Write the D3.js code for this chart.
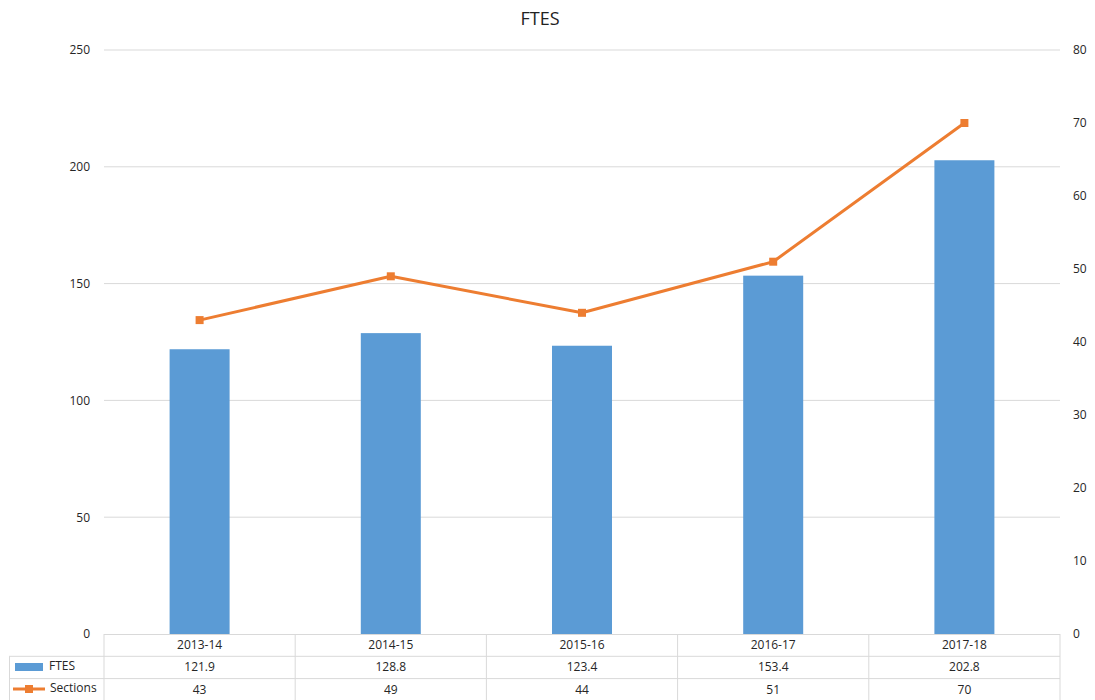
<!DOCTYPE html>
<html><head><meta charset="utf-8">
<script src="https://cdn.jsdelivr.net/npm/d3@7"></script>
<style>body{margin:0;background:#fff;} text{font-family:"Open Sans","Noto Sans",sans-serif;}</style>
</head><body>
<svg id="c" width="1095" height="700"></svg>
<script>
const categories = ["2013-14","2014-15","2015-16","2016-17","2017-18"];
const ftes = [121.9,128.8,123.4,153.4,202.8];
const sections = [43,49,44,51,70];
const leftTicks = [0,50,100,150,200,250];
const rightTicks = [0,10,20,30,40,50,60,70,80];

const svg = d3.select("#c");
const L=104, R=1060, T=50, B=634;
const x = d3.scaleBand().domain(categories).range([L,R]).paddingInner(0).paddingOuter(0);
const yL = d3.scaleLinear().domain([0,250]).range([B,T]);
const yR = d3.scaleLinear().domain([0,80]).range([B,T]);
const grid="#d9d9d9", txt="#262626";

svg.append("text").attr("x",540).attr("y",25).attr("text-anchor","middle")
  .attr("font-size",18).attr("fill","#222").text("FTES");

// gridlines
svg.append("g").selectAll("line").data(leftTicks.filter(d=>d>0)).join("line")
  .attr("x1",L).attr("x2",R).attr("y1",d=>yL(d)).attr("y2",d=>yL(d))
  .attr("stroke",grid).attr("stroke-width",1);

// axis labels
const axL = svg.append("g").attr("transform",`translate(${L},0)`)
  .call(d3.axisLeft(yL).tickValues(leftTicks).tickSize(0).tickPadding(14));
axL.select(".domain").remove();
axL.selectAll("text").attr("font-size",12).attr("fill",txt).style("font-family","'Open Sans',sans-serif");

const axR = svg.append("g").attr("transform",`translate(${R},0)`)
  .call(d3.axisRight(yR).tickValues(rightTicks).tickSize(0).tickPadding(13));
axR.select(".domain").remove();
axR.selectAll("text").attr("font-size",12).attr("fill",txt).style("font-family","'Open Sans',sans-serif");

// bars
const bw = 60;
svg.append("g").selectAll("rect").data(ftes).join("rect")
  .attr("x",(d,i)=>x(categories[i])+x.bandwidth()/2-bw/2)
  .attr("width",bw)
  .attr("y",d=>yL(d)).attr("height",d=>B-yL(d))
  .attr("fill","#5B9BD5");

// line
const line = d3.line().x((d,i)=>x(categories[i])+x.bandwidth()/2).y(d=>yR(d));
svg.append("path").datum(sections).attr("d",line).attr("fill","none")
  .attr("stroke","#ED7D31").attr("stroke-width",3).attr("stroke-linejoin","round");
svg.append("g").selectAll("rect").data(sections).join("rect")
  .attr("x",(d,i)=>x(categories[i])+x.bandwidth()/2-4)
  .attr("y",d=>yR(d)-4).attr("width",8).attr("height",8).attr("fill","#ED7D31");

// data table
const rowH = 22.3;
const tg = svg.append("g");
const rows = [B, B+rowH, B+2*rowH, B+3*rowH];
tg.append("line").attr("x1",L).attr("x2",R).attr("y1",B+0.5).attr("y2",B+0.5).attr("stroke",grid);
[rows[1],rows[2],rows[3]].forEach(yv=>{
  tg.append("line").attr("x1",9).attr("x2",R).attr("y1",yv).attr("y2",yv).attr("stroke",grid);
});
const vx = categories.map(c=>x(c)).concat([R]);
vx.forEach(xv=>{
  tg.append("line").attr("x1",xv).attr("x2",xv).attr("y1",B).attr("y2",700).attr("stroke",grid);
});
tg.append("line").attr("x1",9.5).attr("x2",9.5).attr("y1",rows[1]).attr("y2",700).attr("stroke",grid);

const cx = c=>x(c)+x.bandwidth()/2;
tg.selectAll("text.cat").data(categories).join("text").attr("class","cat")
  .attr("x",d=>cx(d)).attr("y",B+rowH/2+4).attr("text-anchor","middle")
  .attr("font-size",12).attr("fill",txt).text(d=>d);
tg.selectAll("text.f").data(ftes).join("text").attr("class","f")
  .attr("x",(d,i)=>cx(categories[i])).attr("y",B+rowH*1.5+4).attr("text-anchor","middle")
  .attr("font-size",12).attr("fill",txt).text(d=>d.toFixed(1));
tg.selectAll("text.s").data(sections).join("text").attr("class","s")
  .attr("x",(d,i)=>cx(categories[i])).attr("y",B+rowH*2.5+4).attr("text-anchor","middle")
  .attr("font-size",12).attr("fill",txt).text(d=>d);

// legend keys
tg.append("rect").attr("x",15).attr("y",663).attr("width",28).attr("height",8).attr("fill","#5B9BD5");
tg.append("text").attr("x",49).attr("y",670).attr("font-size",12).attr("fill",txt).text("FTES");
tg.append("line").attr("x1",13).attr("x2",45).attr("y1",689).attr("y2",689).attr("stroke","#ED7D31").attr("stroke-width",3);
tg.append("rect").attr("x",25).attr("y",685).attr("width",8).attr("height",8).attr("fill","#ED7D31");
tg.append("text").attr("x",50).attr("y",692).attr("font-size",12).attr("fill",txt).text("Sections");
</script>
</body></html>
